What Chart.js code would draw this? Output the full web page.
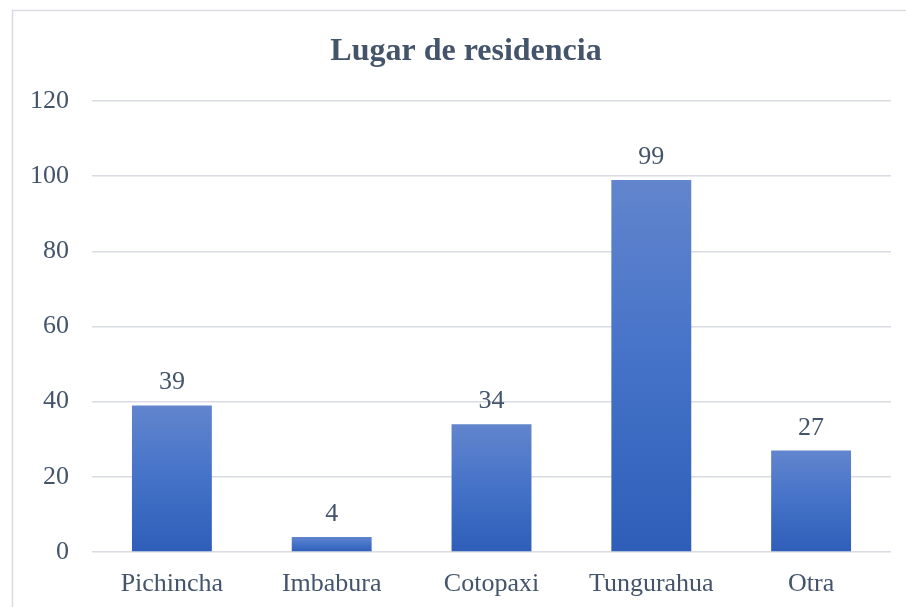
<!DOCTYPE html>
<html><head><meta charset="utf-8">
<script src="https://cdn.jsdelivr.net/npm/chart.js@4"></script>
<style>html,body{margin:0;padding:0;background:#fff;}#wrap{width:906px;height:607px;position:relative;}</style>
</head><body><div id="wrap"><canvas id="c" width="906" height="607"></canvas></div>
<script>
const categories = ["Pichincha", "Imbabura", "Cotopaxi", "Tungurahua", "Otra"];
const values = [39, 4, 34, 99, 27];
const yTicks = [0, 20, 40, 60, 80, 100, 120];
const titleText = "Lugar de residencia";

const textColor = "#44546A";
const serif = "'Liberation Serif', 'Times New Roman', serif";

const framePlugin = {
  id: 'frame',
  beforeDraw(chart) {
    const ctx = chart.ctx;
    ctx.save();
    ctx.fillStyle = '#fff';
    ctx.fillRect(0, 0, chart.width, chart.height);
    ctx.strokeStyle = '#D9DCE3';
    ctx.lineWidth = 1.5;
    ctx.strokeRect(12.5, 10.5, chart.width, chart.height);
    ctx.fillStyle = textColor;
    ctx.font = "bold 32px " + serif;
    ctx.textAlign = 'center';
    ctx.textBaseline = 'alphabetic';
    ctx.fillText(titleText, 466, 60);
    ctx.restore();
  }
};

const labelPlugin = {
  id: 'barLabels',
  afterDatasetsDraw(chart) {
    const ctx = chart.ctx;
    const meta = chart.getDatasetMeta(0);
    ctx.save();
    ctx.fillStyle = textColor;
    ctx.font = "26px " + serif;
    ctx.textAlign = 'center';
    ctx.textBaseline = 'alphabetic';
    meta.data.forEach((bar, i) => {
      ctx.fillText(String(values[i]), bar.x, bar.y - 16);
    });
    ctx.restore();
  }
};

function barFill(context) {
  const chart = context.chart;
  if (!chart.chartArea) return '#4472C4';
  const y = chart.scales.y;
  const i = context.dataIndex;
  const top = y.getPixelForValue(values[i]);
  const bottom = y.getPixelForValue(0);
  if (!isFinite(top) || !isFinite(bottom) || top === bottom) return '#4472C4';
  const g = chart.ctx.createLinearGradient(0, top, 0, bottom);
  g.addColorStop(0, '#6285CD');
  g.addColorStop(0.5, '#4472C8');
  g.addColorStop(1, '#2E5EB8');
  return g;
}

new Chart(document.getElementById('c'), {
  type: 'bar',
  data: {
    labels: categories,
    datasets: [{
      data: values,
      backgroundColor: barFill,
      borderWidth: 0,
      barPercentage: 0.5,
      categoryPercentage: 1.0
    }]
  },
  options: {
    responsive: false,
    animation: false,
    devicePixelRatio: 1,
    layout: { padding: { top: 101, right: 15, left: 0, bottom: 0 } },
    plugins: { legend: { display: false }, title: { display: false }, tooltip: { enabled: false } },
    scales: {
      x: {
        afterFit(s) { s.height = 55; },
        grid: { display: false, drawTicks: false },
        border: { display: false },
        ticks: { color: textColor, font: { family: serif, size: 26 }, padding: 17 }
      },
      y: {
        min: 0, max: 120,
        afterFit(s) { s.width = 92; },
        afterBuildTicks(s) { s.ticks = yTicks.map(v => ({ value: v })); },
        grid: { color: '#D9DCE3', lineWidth: 1.5, drawTicks: false },
        border: { display: false },
        ticks: { color: textColor, font: { family: serif, size: 26 }, padding: 23 }
      }
    }
  },
  plugins: [framePlugin, labelPlugin]
});
</script>
</body></html>
